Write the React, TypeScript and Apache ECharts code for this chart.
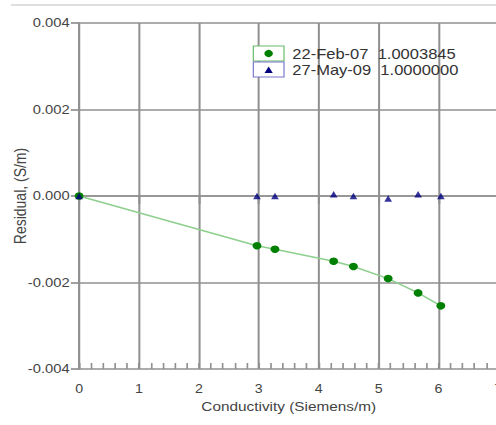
import React, { useEffect, useRef } from "react";
import * as echarts from "echarts";

const xTicks = [0, 1, 2, 3, 4, 5, 6, 7];
const yTicks = [-0.004, -0.002, 0, 0.002, 0.004];
const febX = [0, 2.97, 3.27, 4.25, 4.58, 5.16, 5.66, 6.04];
const febY = [0, -0.00115, -0.00123, -0.00151, -0.00163, -0.00191, -0.00224, -0.00254];
const mayX = [0, 2.97, 3.27, 4.25, 4.58, 5.16, 5.66, 6.04];
const mayY = [0, 0, 0, 0.00004, 0, -0.00006, 0.00004, 0];
const legendDates = ["22-Feb-07", "27-May-09"];
const legendValues = ["1.0003845", "1.0000000"];
const xTitle = "Conductivity (Siemens/m)";
const yTitle = "Residual, (S/m)";

const SX = 496 / 420;
const W = 420;
const H = 425;
const FONT = "'Liberation Sans', Arial, Helvetica, sans-serif";
const GRID = "#909090";

export default function App() {
  const ref = useRef<HTMLDivElement>(null);
  useEffect(() => {
    document.body.style.margin = "0";
    document.body.style.overflow = "hidden";
    const chart = echarts.init(ref.current!, null, { renderer: "svg", width: W, height: H });
    chart.setOption({
      animation: false,
      textStyle: { fontFamily: FONT },
      grid: { left: 67, right: -2, top: 23, bottom: 56, outerBoundsMode: "none", containLabel: false },
      xAxis: [
        {
          type: "value",
          min: xTicks[0],
          max: xTicks[xTicks.length - 1],
          interval: 1,
          position: "bottom",
          name: xTitle,
          nameLocation: "middle",
          nameGap: 27,
          nameTextStyle: { fontSize: 13, color: "#444", fontFamily: FONT },
          axisLine: { show: true, lineStyle: { color: GRID, width: 1.7 } },
          axisTick: { show: true, inside: false, length: 8, lineStyle: { color: GRID, width: 1.7 } },
          axisLabel: { margin: 14, fontSize: 12, color: "#444", fontFamily: FONT, showMaxLabel: true },
          splitLine: { show: true, lineStyle: { color: GRID, width: 1.7 } },
        },
        {
          type: "value",
          min: 0,
          max: xTicks[xTicks.length - 1],
          interval: 0.2,
          position: "bottom",
          axisLine: { show: false },
          axisTick: { show: true, inside: true, length: 6, lineStyle: { color: GRID, width: 1.4 } },
          axisLabel: { show: false },
          splitLine: { show: false },
        },
      ],
      yAxis: {
        type: "value",
        min: yTicks[0],
        max: yTicks[yTicks.length - 1],
        interval: 0.002,
        name: yTitle,
        nameLocation: "middle",
        nameGap: 43,
        nameMoveOverlap: false,
        nameTextStyle: { fontSize: 14, color: "#444", fontFamily: FONT },
        axisLine: { show: true, lineStyle: { color: GRID, width: 1.7 } },
        axisTick: { show: true, inside: false, length: 7, lineStyle: { color: GRID, width: 1.7 } },
        axisLabel: {
          margin: 8,
          fontSize: 12.5,
          color: "#444",
          fontFamily: FONT,
          formatter: (v: number) => v.toFixed(3),
        },
        splitLine: { show: true, lineStyle: { color: GRID, width: 1.7 } },
      },
      series: [
        {
          name: legendDates[0],
          type: "line",
          data: febX.map((x, i) => [x, febY[i]]),
          symbol: "circle",
          symbolSize: 7.5,
          itemStyle: { color: "#008000" },
          lineStyle: { color: "#8fd08f", width: 1.5 },
          z: 3,
        },
        {
          name: legendDates[1],
          type: "scatter",
          data: mayX.map((x, i) => [x, mayY[i]]),
          symbol: "triangle",
          symbolSize: 6.5,
          itemStyle: { color: "#000080" },
          z: 4,
        },
      ],
      graphic: [
        {
          type: "line",
          shape: { x1: 9.3, y1: 5, x2: W, y2: 5 },
          style: { stroke: "#dedede", lineWidth: 2 },
        },
        {
          type: "rect",
          shape: { x: 214.5, y: 46, width: 26, height: 15 },
          style: { fill: "#fff", stroke: "#66bb66", lineWidth: 1 },
          z: 10,
        },
        {
          type: "circle",
          shape: { cx: 227.5, cy: 53.5, r: 3.6 },
          style: { fill: "#008000" },
          z: 11,
        },
        {
          type: "rect",
          shape: { x: 214.5, y: 62, width: 26, height: 15 },
          style: { fill: "#fff", stroke: "#7777cc", lineWidth: 1 },
          z: 10,
        },
        {
          type: "polygon",
          shape: { points: [[227.5, 66.5], [224, 73], [231, 73]] },
          style: { fill: "#000080" },
          z: 11,
        },
        {
          type: "text",
          x: 247.5,
          y: 53.5,
          style: {
            text: legendDates[0] + "\u00a0\u00a0" + legendValues[0],
            font: `14px ${FONT}`,
            fill: "#333",
            textVerticalAlign: "middle",
          },
          z: 11,
        },
        {
          type: "text",
          x: 247.5,
          y: 70,
          style: {
            text: legendDates[1] + "\u00a0\u00a0" + legendValues[1],
            font: `14px ${FONT}`,
            fill: "#333",
            textVerticalAlign: "middle",
          },
          z: 11,
        },
      ],
    });
    return () => chart.dispose();
  }, []);
  return (
    <div
      ref={ref}
      style={{
        position: "absolute",
        left: 0,
        top: 0,
        width: W,
        height: H,
        transform: `scaleX(${SX})`,
        transformOrigin: "0 0",
        background: "#fff",
      }}
    />
  );
}
